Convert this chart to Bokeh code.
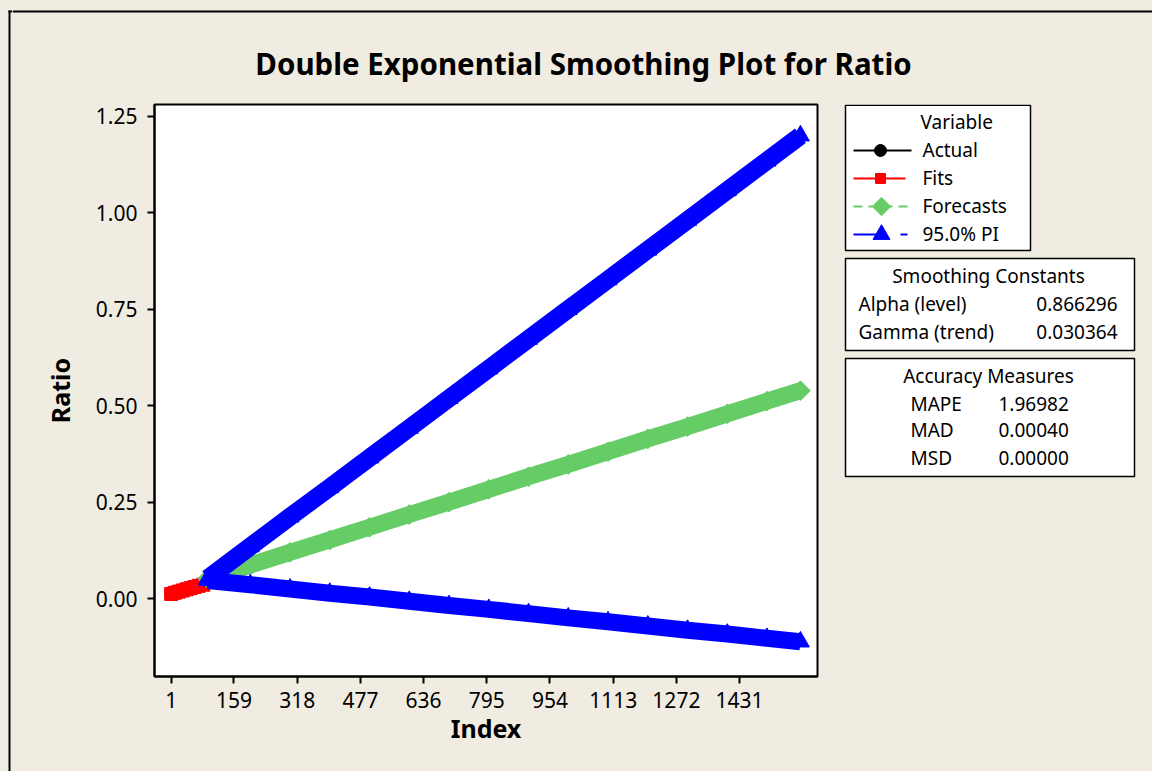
from bokeh.plotting import figure
from bokeh.layouts import row, column
from bokeh.models import Range1d, FixedTicker, NumeralTickFormatter
from bokeh.core.properties import value
from bokeh.embed import file_html
from bokeh.resources import INLINE

# ---------------- data ----------------
actual_index = [1, 10, 20, 30, 40, 50, 60, 70, 82]
actual = [0.015, 0.017, 0.020, 0.023, 0.026, 0.029, 0.032, 0.035, 0.039]
fits = [0.012, 0.015, 0.018, 0.021, 0.024, 0.027, 0.030, 0.033, 0.036]

forecast_index = [93, 200, 300, 400, 500, 600, 700, 800, 900, 1000,
                  1100, 1200, 1300, 1400, 1500, 1584]
forecasts = [0.052, 0.087, 0.120, 0.152, 0.185, 0.218, 0.250, 0.283, 0.316,
             0.348, 0.381, 0.414, 0.446, 0.479, 0.512, 0.539]
upper_pi = [0.052, 0.135, 0.212, 0.288, 0.365, 0.442, 0.519, 0.596, 0.673,
            0.750, 0.827, 0.904, 0.981, 1.058, 1.135, 1.200]
lower_pi = [0.047, 0.036, 0.025, 0.014, 0.004, -0.007, -0.018, -0.028, -0.039,
            -0.050, -0.060, -0.071, -0.082, -0.092, -0.103, -0.112]

x_ticks = [1, 159, 318, 477, 636, 795, 954, 1113, 1272, 1431]
y_ticks = [0.0, 0.25, 0.5, 0.75, 1.0, 1.25]

title_text = "Double Exponential Smoothing Plot for Ratio"
legend_title = "Variable"
legend_names = ["Actual", "Fits", "Forecasts", "95.0% PI"]
const_title = "Smoothing Constants"
const_names = ["Alpha (level)", "Gamma (trend)"]
const_values = ["0.866296", "0.030364"]
acc_title = "Accuracy Measures"
acc_names = ["MAPE", "MAD", "MSD"]
acc_values = ["1.96982", "0.00040", "0.00000"]

# ---------------- style / layout ----------------
BEIGE = "#F0ECE2"
GREEN = "#66CC66"
BLUE = "#0000FF"
RED = "#FF0000"
FONT = "Noto Sans"
W, H = 1152, 771
FL, FR, FT, FB = 154, 817, 104, 676   # plot frame edges in page pixels
TOP_H = 95                            # height of the title strip
LEFT_W = 12                           # strip carrying the window's left edge
SIDE_X = 835                          # start of the legend panel
TOPB = FT - TOP_H                     # top border shared by the row
BOT = H - FB                          # bottom border shared by the row


def blank(width, height, x0, x1, y_top, y_bottom, top_border=0, bottom_border=0):
    f = figure(width=width, height=height, x_range=Range1d(x0, x1),
               y_range=Range1d(y_bottom, y_top), output_backend="svg",
               toolbar_location=None, x_axis_location=None,
               y_axis_location=None, title=None, min_border=0,
               min_border_top=top_border, min_border_bottom=bottom_border,
               background_fill_color=BEIGE, border_fill_color=BEIGE)
    f.grid.visible = False
    f.outline_line_color = None
    return f


# --- left strip, full height: the window's left edge ---
strip = blank(LEFT_W, H, 0, LEFT_W, 0, H)
strip.quad(left=[8, 8], right=[10, LEFT_W], top=[10, 10], bottom=[H, 12],
           color="black", line_width=0)

# --- title strip (page x 12..1152, y 0..95) ---
top = blank(W - LEFT_W, TOP_H, LEFT_W, W, 0, TOP_H)
top.quad(left=[LEFT_W], right=[W], top=[10], bottom=[12], color="black",
         line_width=0)
top.text(x=[583], y=[63], text=[title_text], text_font=value(FONT),
         text_font_size="29.5px", text_font_style="bold", text_align="center",
         text_baseline="alphabetic", text_color="black")

# --- main plot ---
p = figure(width=SIDE_X - LEFT_W, height=H - TOP_H, x_range=Range1d(-41, 1627),
           y_range=Range1d(-0.202, 1.281), output_backend="svg",
           toolbar_location=None, title=None,
           min_border_left=FL - LEFT_W, min_border_right=SIDE_X - FR,
           min_border_top=TOPB, min_border_bottom=BOT,
           background_fill_color="white", border_fill_color=BEIGE)
p.grid.visible = False
p.outline_line_color = "black"
p.outline_line_width = 2

for ax in (p.xaxis, p.yaxis):
    ax.axis_line_color = "black"
    ax.axis_line_width = 2
    ax.major_tick_line_color = "black"
    ax.major_tick_line_width = 2
    ax.major_tick_in = 0
    ax.major_tick_out = 7
    ax.minor_tick_line_color = None
    ax.major_label_text_font = FONT
    ax.major_label_text_font_size = "21px"
    ax.major_label_text_color = "black"
    ax.axis_label_text_font = FONT
    ax.axis_label_text_font_size = "25px"
    ax.axis_label_text_font_style = "bold"
    ax.axis_label_text_color = "black"

p.xaxis.ticker = FixedTicker(ticks=x_ticks)
p.yaxis.ticker = FixedTicker(ticks=y_ticks)
p.yaxis.formatter = NumeralTickFormatter(format="0.00")
p.xaxis.axis_label = "Index"
p.yaxis.axis_label = "Ratio"
p.xaxis.major_label_standoff = 8
p.xaxis.axis_label_standoff = 0
p.yaxis.major_label_standoff = 10
p.yaxis.axis_label_standoff = 16

p.line(actual_index, actual, line_color="black", line_width=12, line_join="round")
p.scatter(actual_index, actual, marker="circle", size=13, color="black")
p.line(actual_index, fits, line_color=RED, line_width=13, line_join="round")
p.scatter(actual_index, fits, marker="square", size=13, color=RED)
p.line(forecast_index, forecasts, line_color=GREEN, line_width=17)
p.scatter(forecast_index, forecasts, marker="square", angle=0.785398, size=14,
          color=GREEN)
p.line(forecast_index, upper_pi, line_color=BLUE, line_width=18)
p.scatter(forecast_index, upper_pi, marker="triangle", size=18, color=BLUE)
p.line(forecast_index, lower_pi, line_color=BLUE, line_width=17)
p.scatter(forecast_index, lower_pi, marker="triangle", size=18, color=BLUE)

# --- side panel (page x 835..1152, frame page y 104..676) ---
s = blank(W - SIDE_X, H - TOP_H, SIDE_X, W, FT, FB, TOPB, BOT)
s.quad(left=[845, 845, 845], right=[1030, 1134, 1134], top=[104.8, 258, 358],
       bottom=[250, 350, 476], fill_color="white", line_color="black",
       line_width=1.5)

rows_y = [150, 178, 206, 234]
s.line([853, 911], [rows_y[0]] * 2, line_color="black", line_width=2)
s.scatter([880], [rows_y[0]], marker="circle", size=12, color="black")
s.line([853, 905], [rows_y[1]] * 2, line_color=RED, line_width=2)
s.scatter([880], [rows_y[1]], marker="square", size=10, color=RED)
s.line([853, 911], [rows_y[2]] * 2, line_color=GREEN, line_width=2,
       line_dash="9 6")
s.scatter([881], [rows_y[2]], marker="square", angle=0.785398, size=13,
          color=GREEN)
s.line([853, 911], [rows_y[3]] * 2, line_color=BLUE, line_width=2,
       line_dash="23 24 7 100")
s.scatter([881], [rows_y[3]], marker="triangle", size=17, color=BLUE)


def txt(xs, ys, texts, align):
    s.text(x=xs, y=ys, text=texts, text_font=value(FONT), text_font_size="19px",
           text_align=align, text_baseline="alphabetic", text_color="black")


txt([920] + [922] * 4, [121, 149, 177, 205, 233], [legend_title] + legend_names,
    "left")
txt([988, 988], [275, 375], [const_title, acc_title], "center")
txt([858, 858], [303, 331], const_names, "left")
txt([1117, 1117], [303, 331], const_values, "right")
txt([910] * 3, [403, 429, 457], acc_names, "left")
txt([998] * 3, [403, 429, 457], acc_values, "left")

layout = row(strip, column(top, row(p, s)), styles={"background-color": BEIGE})
open("out.html", "w").write(file_html(layout, INLINE))
